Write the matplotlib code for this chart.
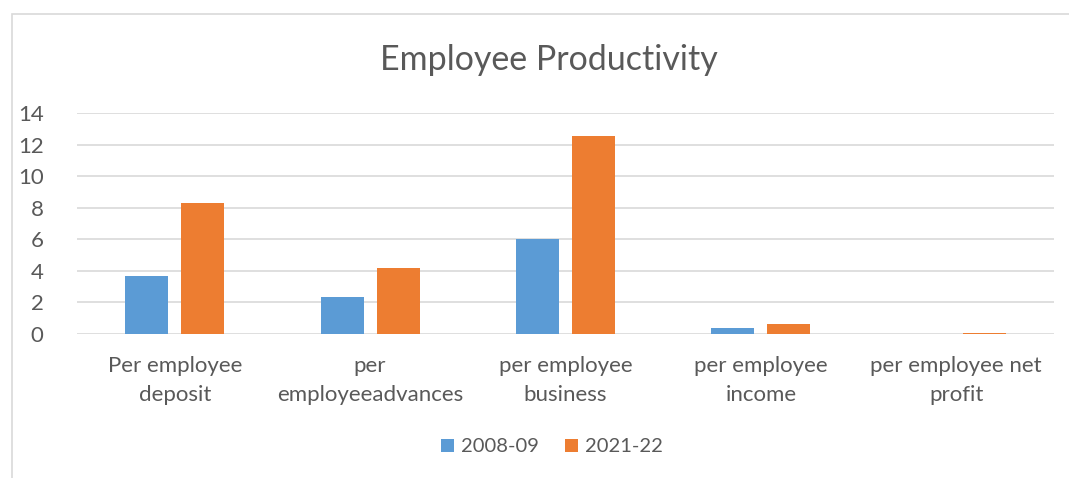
import numpy as np
import matplotlib.pyplot as plt
from matplotlib.patches import Rectangle

plt.rcParams['font.family'] = ['Lato', 'DejaVu Sans']

categories = ["Per employee\ndeposit", "per\nemployeeadvances", "per employee\nbusiness",
              "per employee\nincome", "per employee net\nprofit"]
fy_2008 = [3.68, 2.35, 6.02, 0.41, 0.01]
fy_2021 = [8.33, 4.18, 12.54, 0.66, 0.09]
series_names = ["2008-09", "2021-22"]

blue = "#5b9bd5"
orange = "#ed7d31"
text_gray = "#595959"
grid_gray = "#d9d9d9"

W, H = 1069, 478
fig = plt.figure(figsize=(W / 100, H / 100), dpi=100)
ax = fig.add_axes([77 / W, 1 - 334 / H, (1054 - 77) / W, (334 - 113) / H])

# chart area border
fig.patches.append(Rectangle((12 / W, -0.1), 1.2, 1.1 - 14 / H, transform=fig.transFigure,
                             fill=False, edgecolor=grid_gray, linewidth=1.2))

x = np.arange(len(categories))
w = 0.22
off = 0.143
ax.bar(x - off, fy_2008, w, color=blue, label=series_names[0], zorder=3)
ax.bar(x + off, fy_2021, w, color=orange, label=series_names[1], zorder=3)

ax.set_xlim(-0.5, len(categories) - 0.5)
ax.set_ylim(0, 14)
ax.set_yticks(range(0, 15, 2))
ax.yaxis.grid(True, color=grid_gray, linewidth=1.2, zorder=0)
ax.set_axisbelow(True)
for s in ax.spines.values():
    s.set_visible(False)
ax.tick_params(length=0, labelsize=16, labelcolor=text_gray)
ax.tick_params(axis='y', pad=24)
ax.tick_params(axis='x', pad=16)
ax.set_xticks(x)
ax.set_xticklabels(categories, linespacing=1.55)

fig.text(549 / W, 1 - 60 / H, "Employee Productivity", ha="center", va="center",
         fontsize=24.5, color=text_gray)

fig.legend(loc="center", bbox_to_anchor=(552 / W, 1 - 447 / H), ncol=2, frameon=False,
           fontsize=14.5, labelcolor=text_gray, handlelength=0.65, handleheight=0.65,
           handletextpad=0.35, columnspacing=1.3)

fig.savefig("out.png", dpi=100)
